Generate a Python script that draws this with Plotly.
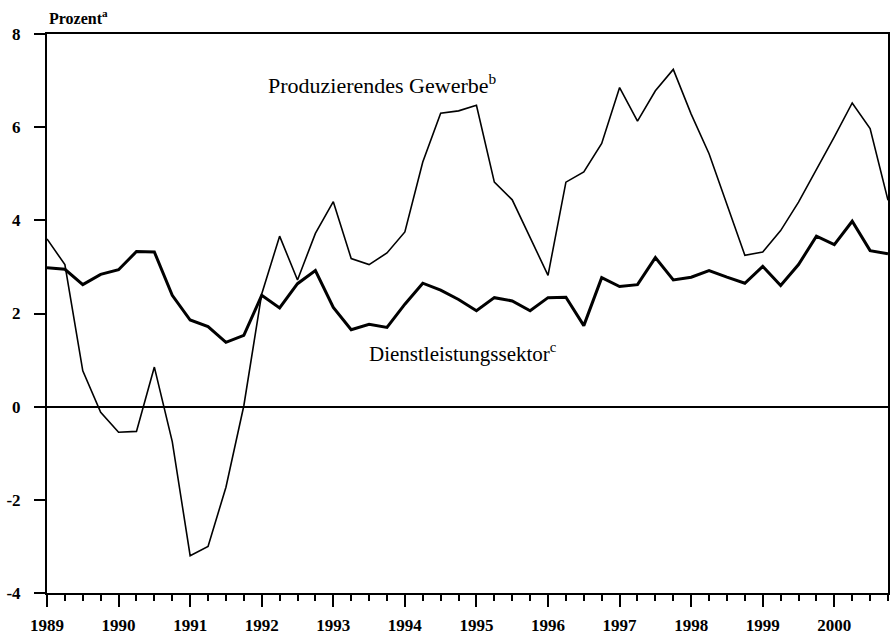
import plotly.graph_objects as go

# Quarterly observations 1989 Q1 .. 2000 Q4
years = list(range(1989, 2001))
quarters = [y + q * 0.25 for y in years for q in range(4)]

produzierendes_gewerbe = [
    3.6, 3.05, 0.77, -0.12,
    -0.55, -0.53, 0.85, -0.75,
    -3.2, -3.0, -1.73, 0.02,
    2.42, 3.66, 2.72, 3.72,
    4.4, 3.18, 3.05, 3.3,
    3.75, 5.25, 6.3, 6.35,
    6.47, 4.82, 4.44, 3.64,
    2.82, 4.82, 5.04, 5.65,
    6.85, 6.13, 6.78, 7.24,
    6.28, 5.43, 4.36, 3.25,
    3.32, 3.78, 4.39, 5.08,
    5.79, 6.52, 5.97, 4.43,
]

dienstleistungssektor = [
    2.98, 2.95, 2.62, 2.84,
    2.94, 3.33, 3.32, 2.39,
    1.86, 1.72, 1.38, 1.53,
    2.39, 2.12, 2.64, 2.92,
    2.13, 1.65, 1.77, 1.7,
    2.2, 2.65, 2.5, 2.3,
    2.06, 2.34, 2.27, 2.06,
    2.34, 2.35, 1.74, 2.77,
    2.58, 2.62, 3.2, 2.72,
    2.78, 2.92, 2.78, 2.65,
    3.01, 2.6, 3.05, 3.66,
    3.48, 3.98, 3.35, 3.28,
]

x_tick_vals = years
x_tick_text = [str(y) for y in years]
y_tick_vals = [-4, -2, 0, 2, 4, 6, 8]
y_tick_text = [str(v) for v in y_tick_vals]

FONT = "Liberation Serif"

fig = go.Figure()
fig.add_trace(go.Scatter(x=quarters, y=produzierendes_gewerbe, mode="lines",
                         line=dict(color="black", width=1.6), showlegend=False,
                         name="Produzierendes Gewerbe"))
fig.add_trace(go.Scatter(x=quarters, y=dienstleistungssektor, mode="lines",
                         line=dict(color="black", width=3), showlegend=False,
                         name="Dienstleistungssektor"))

fig.update_layout(
    template="none",
    width=892, height=636,
    margin=dict(l=47, r=4, t=34, b=43),
    paper_bgcolor="white", plot_bgcolor="white",
    font=dict(family=FONT, color="black"),
    xaxis=dict(
        automargin=False,
        range=[1989, 2000.75], showgrid=False, zeroline=False,
        showline=True, linecolor="black", linewidth=2, mirror=True,
        tickmode="array", tickvals=x_tick_vals, ticktext=x_tick_text,
        ticks="outside", ticklen=12, tickwidth=2, tickcolor="black",
        ticklabelstandoff=4,
        tickfont=dict(family=FONT, size=17, color="black", weight="bold"),
        minor=dict(dtick=0.25, tick0=1989, ticks="outside", ticklen=6,
                   tickwidth=2, tickcolor="black", showgrid=False),
    ),
    yaxis=dict(
        automargin=False,
        range=[-4, 8], showgrid=False,
        zeroline=True, zerolinecolor="black", zerolinewidth=1.5,
        showline=True, linecolor="black", linewidth=2, mirror=True,
        tickmode="array", tickvals=y_tick_vals, ticktext=y_tick_text,
        ticks="outside", ticklen=11, tickwidth=1.5, tickcolor="black",
        ticklabelstandoff=10,
        tickfont=dict(family=FONT, size=17, color="black", weight="bold"),
    ),
    annotations=[
        dict(text="Prozent<sup>a</sup>", xref="paper", yref="paper",
             x=0.0, y=1.03, xanchor="left", yanchor="middle", showarrow=False,
             font=dict(family=FONT, size=16, color="black", weight="bold")),
        dict(text="Produzierendes Gewerbe<sup>b</sup>", xref="paper", yref="paper",
             x=0.26, y=0.91, xanchor="left", yanchor="middle", showarrow=False,
             font=dict(family=FONT, size=22, color="black")),
        dict(text="Dienstleistungssektor<sup>c</sup>", xref="paper", yref="paper",
             x=0.38, y=0.431, xanchor="left", yanchor="middle", showarrow=False,
             font=dict(family=FONT, size=21, color="black")),
    ],
)

# remove the browser's default 8px body margin so the figure fills the window
fig.write_html("out.html",
               config={"displayModeBar": False},
               post_script="document.body.style.margin='0';document.body.style.overflow='hidden';")
